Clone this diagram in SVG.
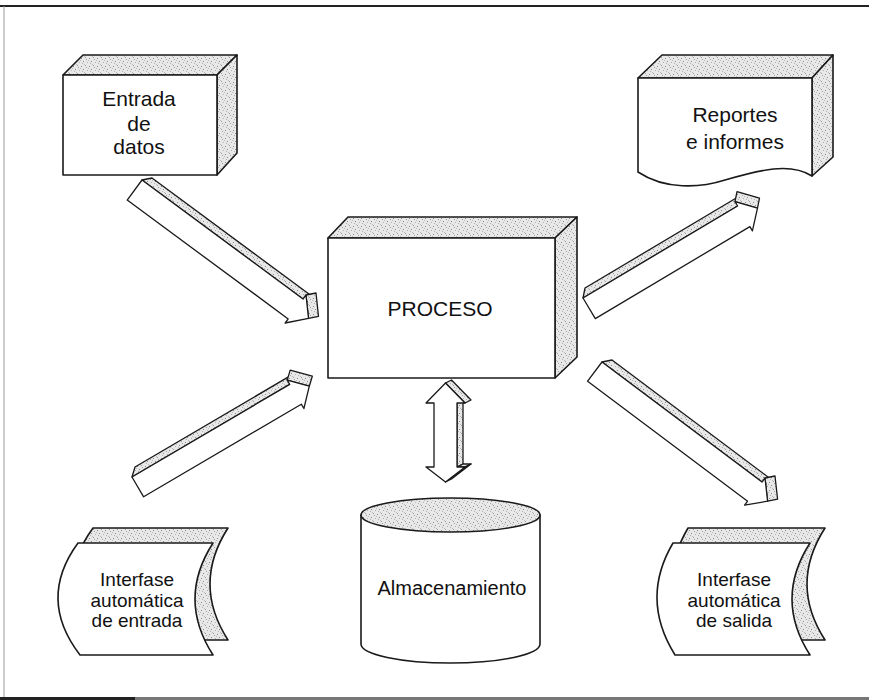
<svg xmlns="http://www.w3.org/2000/svg" width="869" height="700" viewBox="0 0 869 700">
<defs>
<pattern id="stip" width="8" height="8" patternUnits="userSpaceOnUse">
<rect width="8" height="8" fill="#e8e8e8"/>
<rect x="1" y="2" width="1" height="1" fill="#8a8a8a"/>
<rect x="5" y="1" width="1" height="1" fill="#a0a0a0"/>
<rect x="3" y="5" width="1" height="1" fill="#8a8a8a"/>
<rect x="7" y="6" width="1" height="1" fill="#b0b0b0"/>
<rect x="6" y="3" width="1" height="1" fill="#a0a0a0"/>
<rect x="2" y="7" width="1" height="1" fill="#b0b0b0"/>
<rect x="0" y="4" width="1" height="1" fill="#bbb"/>
<rect x="4" y="0" width="1" height="1" fill="#bbb"/>
</pattern>
<style>
.face{fill:#fff;stroke:#1a1a1a;stroke-width:1.6;stroke-linejoin:round}
.sh{fill:url(#stip);stroke:#1a1a1a;stroke-width:1.6;stroke-linejoin:round}
.ar{fill:#fff;stroke:#1a1a1a;stroke-width:1.3;stroke-linejoin:round}
.ars{fill:url(#stip);stroke:#1a1a1a;stroke-width:1.3;stroke-linejoin:round}
.t{font-family:"Liberation Sans",Arial,sans-serif;fill:#111;text-anchor:middle}
</style>
</defs>
<rect width="869" height="700" fill="#fff"/>
<g id="frame">
<line x1="0" y1="6" x2="869" y2="6" stroke="#222" stroke-width="2"/>
<line x1="4" y1="6" x2="4" y2="697" stroke="#999" stroke-width="1"/>
<line x1="0" y1="698.5" x2="869" y2="698.5" stroke="#777" stroke-width="3"/>
<line x1="0" y1="698.5" x2="135" y2="698.5" stroke="#222" stroke-width="3"/>
</g>

<g id="node-entrada">
<polygon class="sh" points="63,75 83,55 237,55 217,75"/>
<polygon class="sh" points="217,75 237,55 237,153 217,175"/>
<rect class="face" x="63" y="75" width="154" height="100"/>
<text class="t" font-size="21" x="139" y="106">Entrada</text>
<text class="t" font-size="21" x="139" y="131">de</text>
<text class="t" font-size="21" x="139" y="154">datos</text>
</g>

<g id="node-reportes">
<polygon class="sh" points="638,78 662,55 833,55 812,78"/>
<polygon class="sh" points="812,78 833,55 833,157 812,176"/>
<path class="face" d="M638,78 L812,78 L812,176 C790,162 760,170 725,180 C700,188 665,190 638,172 Z"/>
<text class="t" font-size="21" x="735" y="122">Reportes</text>
<text class="t" font-size="21" x="735" y="149">e informes</text>
</g>

<g id="node-proceso">
<polygon class="sh" points="328,238 348,217 577,217 555,238"/>
<polygon class="sh" points="555,238 577,217 577,357 555,378"/>
<rect class="face" x="328" y="238" width="227" height="140"/>
<text class="t" font-size="21" x="440" y="316">PROCESO</text>
</g>

<g id="node-almacenamiento">
<path class="face" d="M361,515 L361,644 A89.5,19 0 0 0 540,644 L540,515 Z"/>
<ellipse class="sh" cx="450.5" cy="515" rx="89.5" ry="17"/>
<text class="t" font-size="20" x="452" y="595">Almacenamiento</text>
</g>

<g id="node-interfase-entrada">
<path class="sh" d="M93,528 L228,528 Q192,584 228,640 L95,640 Q52,584 93,528 Z"/>
<path class="face" d="M78,543 L213,543 Q177,599 213,655 L80,655 Q37,599 78,543 Z"/>
<text class="t" font-size="19" x="137" y="586">Interfase</text>
<text class="t" font-size="19" x="137" y="607">automática</text>
<text class="t" font-size="19" x="137" y="627">de entrada</text>
</g>

<g id="node-interfase-salida">
<path class="sh" d="M688,528 L825,528 Q789,584 825,640 L690,640 Q655,584 688,528 Z"/>
<path class="face" d="M673,543 L810,543 Q774,599 810,655 L675,655 Q640,599 673,543 Z"/>
<text class="t" font-size="19" x="734" y="586">Interfase</text>
<text class="t" font-size="19" x="734" y="607">automática</text>
<text class="t" font-size="19" x="734" y="627">de salida</text>
</g>

<g id="connectors">
<g id="arrow-entrada-proceso">
<polygon class="ars" points="142,180 303,299 313,297 152,178"/>
<polygon class="ars" points="306,295 308.5,318.4 318.5,316.4 316,293"/>
<polygon class="ar" points="142,180 303,299 306,295 308.5,318.4 285.2,323 288.2,318.9 127.2,200.1"/>
</g>
<g id="arrow-proceso-reportes">
<polygon class="ars" points="583,298 737.6,206 739.6,196 585,288"/>
<polygon class="ars" points="735,201.7 757.5,208.1 759.5,198.1 737,191.7"/>
<polygon class="ar" points="583,298 737.6,206 735,201.7 757.5,208.1 752.4,230.9 749.9,226.6 595.3,318.6"/>
</g>
<g id="arrow-interfase-proceso">
<polygon class="ars" points="132,477 289.7,384.4 292.7,374.4 135,467"/>
<polygon class="ars" points="287.2,380.1 309.3,386.2 312.3,376.2 290.2,370.1"/>
<polygon class="ar" points="132,477 289.7,384.4 287.2,380.1 309.3,386.2 303.9,408.5 301.3,404.2 143.6,496.8"/>
</g>
<g id="arrow-proceso-interfase">
<polygon class="ars" points="602,362 762,482 772,480 612,360"/>
<polygon class="ars" points="765,478 767.6,501.2 777.6,499.2 775,476"/>
<polygon class="ar" points="602,362 762,482 765,478 767.6,501.2 744.6,505.2 747.6,501.2 587.6,381.2"/>
</g>
<g id="arrow-proceso-almacenamiento">
<polygon class="ars" points="457,403 457,467 463,464 463,400"/>
<polygon class="ars" points="465,403 445.5,383 451.5,380 471,400"/>
<polygon class="ars" points="457,467 465,467 471,464 463,464"/>
<polygon class="ars" points="465,467 445.5,482 451.5,479 471,464"/>
<polygon class="ar" points="445.5,383 465,403 457,403 457,467 465,467 445.5,482 426,467 434,467 434,403 426,403"/>
</g>
</g>
</svg>
